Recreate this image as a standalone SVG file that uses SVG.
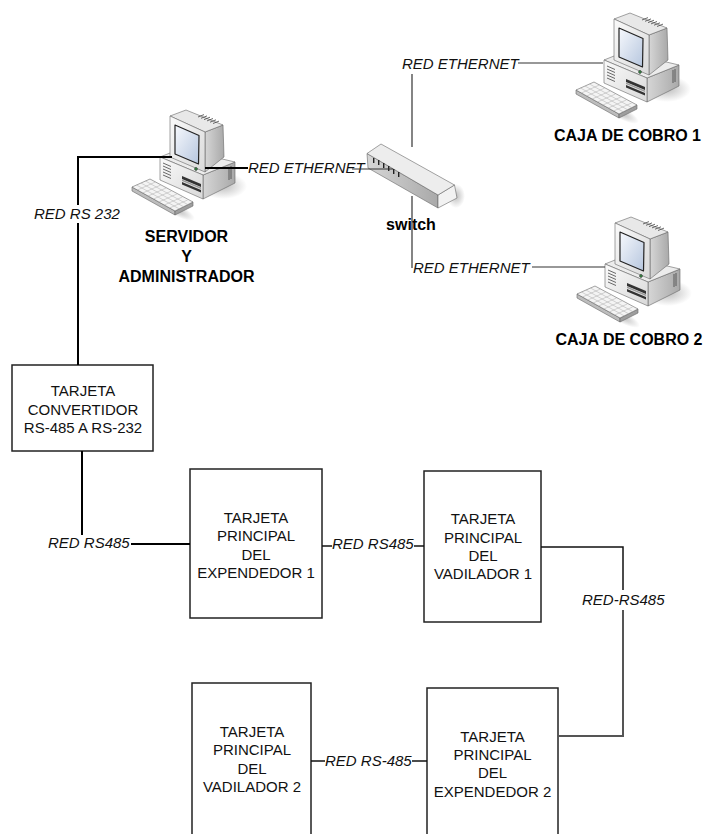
<svg xmlns="http://www.w3.org/2000/svg" xmlns:xlink="http://www.w3.org/1999/xlink" width="709" height="834" viewBox="0 0 709 834">
  <style>
    .lbl { font-family: "Liberation Sans", Arial, sans-serif; font-size: 15px; fill: #111; }
    .it { font-style: italic; }
    .bold { font-weight: bold; font-size: 16px; fill: #000; }
    .mid { text-anchor: middle; }
    .box { fill: #fff; stroke: #222; stroke-width: 1.5; }
    .w-dark { fill: none; stroke: #000; stroke-width: 2; }
    .w-mid { fill: none; stroke: #111; stroke-width: 1.5; }
    .w-grey { fill: none; stroke: #555; stroke-width: 2; }
    .w-eth { fill: none; stroke: #333; stroke-width: 1.2; }
    .edge { stroke: #666; stroke-width: 0.6; stroke-linejoin: round; }
    .key { stroke: #aaa; stroke-width: 0.5; fill: none; }
    .vent { stroke: #444; stroke-width: 0.8; }
  </style>
  <defs>
    <linearGradient id="screenGrad" x1="0" y1="0" x2="1" y2="1">
      <stop offset="0" stop-color="#f7f9fd"/>
      <stop offset="1" stop-color="#b6c6de"/>
    </linearGradient>
    <linearGradient id="faceGrad" x1="0" y1="0" x2="1" y2="1">
      <stop offset="0" stop-color="#fafafa"/>
      <stop offset="1" stop-color="#d9d9d9"/>
    </linearGradient>
    <linearGradient id="sideGrad" x1="0" y1="0" x2="1" y2="0">
      <stop offset="0" stop-color="#d6d6d6"/>
      <stop offset="1" stop-color="#a9a9a9"/>
    </linearGradient>
    <radialGradient id="shadowGrad">
      <stop offset="0" stop-color="#bdbdbd"/>
      <stop offset="1" stop-color="#bdbdbd" stop-opacity="0"/>
    </radialGradient>

    <!-- desktop computer icon, local frame 125x125 -->
    <g id="pc-icon">
      <ellipse cx="98" cy="86" rx="24" ry="13" fill="url(#shadowGrad)"/>
      <ellipse cx="52" cy="110" rx="20" ry="6" fill="url(#shadowGrad)" transform="rotate(28 52 110)"/>
      <!-- case -->
      <polygon class="edge" points="78,75 110,62 110,83 78,99" fill="url(#sideGrad)"/>
      <polygon class="edge" points="35,57 55,49 110,62 78,75" fill="#ececec"/>
      <polygon class="edge" points="35,57 78,75 78,99 35,80" fill="url(#faceGrad)"/>
      <g class="vent">
        <line x1="38" y1="63" x2="46" y2="66.5"/>
        <line x1="38" y1="66" x2="46" y2="69.5"/>
        <line x1="38" y1="69" x2="46" y2="72.5"/>
        <line x1="38" y1="72" x2="46" y2="75.5"/>
        <line x1="38" y1="75" x2="46" y2="78.5"/>
        <line x1="104" y1="67" x2="104" y2="80"/>
        <line x1="106" y1="66" x2="106" y2="79"/>
      </g>
      <polygon points="57,76 76,84 76,87 57,79" fill="#333"/>
      <polygon points="57,82 76,90 76,92.5 57,84.5" fill="#333"/>
      <polygon points="57,79.6 76,87.6 76,89 57,81" fill="#999"/>
      <!-- monitor -->
      <polygon class="edge" points="80,32 98,25 99,57 80,72" fill="url(#sideGrad)"/>
      <polygon class="edge" points="45,16 61,10 98,25 80,32" fill="#e8e8e8"/>
      <g class="vent">
        <line x1="73" y1="17" x2="79" y2="14.6"/>
        <line x1="76" y1="18.3" x2="82" y2="15.9"/>
        <line x1="79" y1="19.6" x2="85" y2="17.2"/>
        <line x1="82" y1="20.9" x2="88" y2="18.5"/>
        <line x1="85" y1="22.2" x2="91" y2="19.8"/>
        <line x1="88" y1="23.5" x2="94" y2="21.1"/>
      </g>
      <polygon class="edge" points="45,16 80,32 80,72 45,57" fill="url(#faceGrad)"/>
      <polygon points="50,25 74,35.5 73.5,64 50,54" fill="url(#screenGrad)" stroke="#222" stroke-width="1.2" stroke-linejoin="round"/>
      <circle cx="71" cy="69" r="1.4" fill="#3a9a4a" stroke="#222" stroke-width="0.6"/>
      <!-- keyboard -->
      <polygon class="edge" points="7,87 50,111 50,115 7,91" fill="#bdbdbd"/>
      <polygon class="edge" points="50,111 68,102 68,106 50,115" fill="#9e9e9e"/>
      <polygon class="edge" points="7,87 25,79 68,102 50,111" fill="#f4f4f4"/>
      <g class="key">
        <line x1="11.5" y1="85" x2="54.5" y2="109"/>
        <line x1="16" y1="83" x2="59" y2="107"/>
        <line x1="20.5" y1="81" x2="63.5" y2="105"/>
        <line x1="12.4" y1="90" x2="30.4" y2="82"/>
        <line x1="17.75" y1="93" x2="35.75" y2="85"/>
        <line x1="23.1" y1="96" x2="41.1" y2="88"/>
        <line x1="28.5" y1="99" x2="46.5" y2="91"/>
        <line x1="33.9" y1="102" x2="51.9" y2="94"/>
        <line x1="39.25" y1="105" x2="57.25" y2="97"/>
        <line x1="44.6" y1="108" x2="62.6" y2="100"/>
      </g>
    </g>
  </defs>

  <rect x="0" y="0" width="709" height="834" fill="#fff"/>

  <!-- workstations -->
  <g id="servidor">
    <use xlink:href="#pc-icon" x="125" y="100"/>
    <text class="lbl bold mid" x="186.5" y="242">SERVIDOR</text>
    <text class="lbl bold mid" x="186.5" y="262">Y</text>
    <text class="lbl bold mid" x="186.5" y="282">ADMINISTRADOR</text>
  </g>

  <g id="caja1">
    <use xlink:href="#pc-icon" x="569" y="3"/>
    <text class="lbl bold mid" x="627.5" y="140.5">CAJA DE COBRO 1</text>
  </g>

  <g id="caja2">
    <use xlink:href="#pc-icon" x="570" y="207"/>
    <text class="lbl bold mid" x="629" y="345">CAJA DE COBRO 2</text>
  </g>

  <!-- network switch -->
  <g id="switch">
    <ellipse cx="456" cy="196" rx="9" ry="12" fill="url(#shadowGrad)"/>
    <polygon class="edge" points="367,153.5 438,195 438,208 368,168" fill="url(#sideGrad)"/>
    <polygon class="edge" points="438,195 454.5,185 457,198 438,208" fill="#f2f2f2"/>
    <polygon class="edge" points="381,144 454.5,185 438,195 367,153.5" fill="#ededed"/>
    <g fill="#222">
      <rect x="373" y="158" width="1.4" height="5"/>
      <rect x="378" y="160" width="1.4" height="5"/>
      <rect x="383" y="163" width="1.4" height="5"/>
      <rect x="388" y="166" width="1.4" height="5"/>
      <rect x="393" y="169" width="1.4" height="5"/>
      <rect x="398" y="172" width="1.4" height="5"/>
    </g>
    <text class="lbl bold mid" x="411" y="230">switch</text>
  </g>

  <!-- controller boards -->
  <g id="convertidor">
    <rect class="box" x="12" y="365" width="141" height="86"/>
    <text class="lbl mid" x="83" y="396">TARJETA</text>
    <text class="lbl mid" x="83" y="415">CONVERTIDOR</text>
    <text class="lbl mid" x="83" y="433">RS-485 A RS-232</text>
  </g>

  <g id="expendedor1">
    <rect class="box" x="190" y="469" width="132" height="149"/>
    <text class="lbl mid" x="256" y="523">TARJETA</text>
    <text class="lbl mid" x="256" y="541">PRINCIPAL</text>
    <text class="lbl mid" x="256" y="560">DEL</text>
    <text class="lbl mid" x="256" y="578">EXPENDEDOR 1</text>
  </g>

  <g id="vadilador1">
    <rect class="box" x="424" y="471" width="117" height="151"/>
    <text class="lbl mid" x="483" y="524">TARJETA</text>
    <text class="lbl mid" x="483" y="543">PRINCIPAL</text>
    <text class="lbl mid" x="483" y="561">DEL</text>
    <text class="lbl mid" x="483" y="579">VADILADOR 1</text>
  </g>

  <g id="expendedor2">
    <rect class="box" x="427" y="688" width="131" height="160"/>
    <text class="lbl mid" x="492.5" y="742">TARJETA</text>
    <text class="lbl mid" x="492.5" y="760">PRINCIPAL</text>
    <text class="lbl mid" x="492.5" y="778">DEL</text>
    <text class="lbl mid" x="492.5" y="797">EXPENDEDOR 2</text>
  </g>

  <g id="vadilador2">
    <rect class="box" x="192" y="683" width="119" height="165"/>
    <text class="lbl mid" x="252" y="737">TARJETA</text>
    <text class="lbl mid" x="252" y="755">PRINCIPAL</text>
    <text class="lbl mid" x="252" y="774">DEL</text>
    <text class="lbl mid" x="252" y="792">VADILADOR 2</text>
  </g>

  <!-- links -->
  <g id="connectors">
    <!-- RS-232 server to converter -->
    <path class="w-dark" d="M172,157 H78 V205"/>
    <path class="w-dark" d="M78,223 V365"/>
    <text class="lbl it" x="34" y="219">RED RS 232</text>

    <!-- RS-485 bus -->
    <path class="w-dark" d="M82,451 V535"/>
    <text class="lbl it" x="48" y="548">RED RS485</text>
    <path class="w-dark" d="M131,544 H190"/>

    <path class="w-mid" d="M322,546 H332"/>
    <text class="lbl it" x="332" y="549">RED RS485</text>
    <path class="w-mid" d="M414,546 H424"/>

    <path class="w-mid" d="M541,547 H623 V590"/>
    <text class="lbl it" x="582" y="605">RED-RS485</text>
    <path class="w-grey" d="M623,610 V736 H558"/>

    <path class="w-mid" d="M311,761 H325"/>
    <text class="lbl it" x="325" y="766">RED RS-485</text>
    <path class="w-mid" d="M412,761 H427"/>

    <!-- Ethernet -->
    <path class="w-dark" d="M205,168 H248"/>
    <text class="lbl it" x="248" y="173">RED ETHERNET</text>
    <path class="w-eth" d="M352,169 H393" stroke-width="1.6"/>

    <path class="w-eth" d="M412,74 V147"/>
    <text class="lbl it" x="402" y="69">RED ETHERNET</text>
    <path class="w-eth" d="M518,63 H603"/>

    <path class="w-eth" d="M412,196 V268"/>
    <text class="lbl it" x="413" y="273">RED ETHERNET</text>
    <path class="w-eth" d="M532,267 H605"/>
  </g>
</svg>
